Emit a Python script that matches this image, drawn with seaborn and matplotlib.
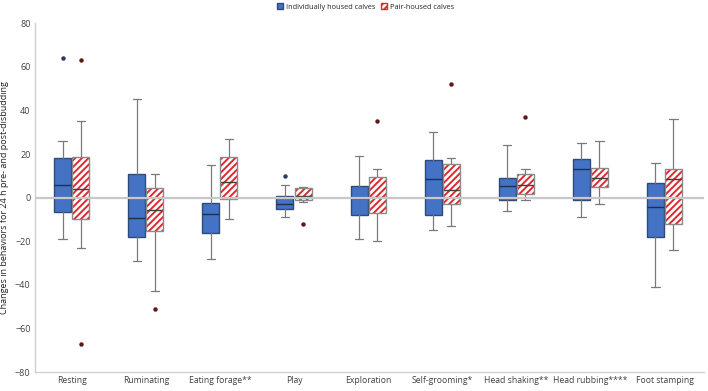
import matplotlib
matplotlib.use("Agg")
import matplotlib.pyplot as plt
import matplotlib.patches as mpatches
from matplotlib.patches import PathPatch
import seaborn as sns

categories = ["Resting", "Ruminating", "Eating forage**", "Play", "Exploration",
              "Self-grooming*", "Head shaking**", "Head rubbing****", "Foot stamping"]

# Individually housed calves: whisker low, Q1, median, Q3, whisker high
ind_whislo = [-19, -29, -28, -9, -19, -15, -6, -9, -41]
ind_q1 = [-6.5, -18, -16, -5, -8, -8, -1, -1, -18]
ind_med = [6, -9.5, -7.5, -3, 0, 8.5, 5.5, 13, -4.5]
ind_q3 = [18.3, 10.7, -2.3, 0.7, 5.3, 17.3, 9.2, 17.6, 6.7]
ind_whishi = [26, 45, 15, 6, 19, 30, 24, 25, 16]
ind_fliers = [[64], [], [], [10], [], [], [], [], []]

# Pair-housed calves
pair_whislo = [-23, -43, -10, -2, -20, -13, -1, -3, -24]
pair_q1 = [-10, -15.5, -0.8, -1, -7, -3, 1.7, 4.7, -12]
pair_med = [4, -5.5, 7, 0.7, 0.3, 3.5, 6, 9, 8.5]
pair_q3 = [18.8, 4.6, 18.5, 4.4, 9.5, 15.3, 10.7, 13.6, 13.3]
pair_whishi = [35, 11, 27, 5, 13, 18, 13, 26, 36]
pair_fliers = [[63, -67], [-51], [], [-12], [35], [52], [37], [], []]

sns.set_theme(style="white")
plt.rcParams['font.family'] = ['Open Sans', 'DejaVu Sans']
plt.rcParams['hatch.linewidth'] = 1.4

fig = plt.figure(figsize=(7.08, 3.91), dpi=100)
ax = fig.add_axes([0.049, 0.048, 0.946, 0.893])


def make_stats(lo, q1, med, q3, hi, fl):
    return [dict(whislo=a, q1=b, med=c, q3=d, whishi=e, fliers=f)
            for a, b, c, d, e, f in zip(lo, q1, med, q3, hi, fl)]


ind_stats = make_stats(ind_whislo, ind_q1, ind_med, ind_q3, ind_whishi, ind_fliers)
pair_stats = make_stats(pair_whislo, pair_q1, pair_med, pair_q3, pair_whishi, pair_fliers)

pos = list(range(len(categories)))
w = 0.23
off = 0.122

b1 = ax.bxp(ind_stats, positions=[p - off for p in pos], widths=w, patch_artist=True,
            showfliers=True,
            boxprops=dict(facecolor="#4472C4", edgecolor="#2F4A78", linewidth=1.0),
            medianprops=dict(color="#1F2F4F", linewidth=1.0),
            whiskerprops=dict(color="#7A7A7A", linewidth=0.9),
            capprops=dict(color="#7A7A7A", linewidth=0.9),
            flierprops=dict(marker="o", markersize=2.2, markerfacecolor="#2B3A67",
                            markeredgecolor="#2B3A67"))

b2 = ax.bxp(pair_stats, positions=[p + off for p in pos], widths=w, patch_artist=True,
            showfliers=True,
            boxprops=dict(facecolor="white", edgecolor="#E0282E", linewidth=0),
            medianprops=dict(color="#404040", linewidth=1.0),
            whiskerprops=dict(color="#7A7A7A", linewidth=0.9),
            capprops=dict(color="#7A7A7A", linewidth=0.9),
            flierprops=dict(marker="o", markersize=2.2, markerfacecolor="#5C1A1A",
                            markeredgecolor="#5C1A1A"))
for box in b2["boxes"]:
    box.set_hatch("/////")
    # grey outline on top of the red hatch
    ax.add_patch(PathPatch(box.get_path(), fill=False, edgecolor="#8A8A8A",
                           linewidth=1.0, zorder=box.get_zorder() + 0.1))

ax.axhline(0, color="#C8C8C8", linewidth=1.6, zorder=10)

ax.set_xlim(-0.5, 8.54)
ax.set_ylim(-80, 80)
ax.set_yticks(range(-80, 81, 20))
ax.set_xticks(pos)
ax.set_xticklabels(categories, fontsize=6.2, color="#404040")
ax.tick_params(axis="y", labelsize=6.5, colors="#404040", length=0, pad=3)
ax.tick_params(axis="x", length=0, pad=3)
ax.set_ylabel("Changes in behaviors for 24 h pre- and post-disbudding", fontsize=6.5,
              color="#202020", labelpad=4)

for s in ["top", "right"]:
    ax.spines[s].set_visible(False)
for s in ["left", "bottom"]:
    ax.spines[s].set_color("#D0D0D0")
    ax.spines[s].set_linewidth(1.0)

h1 = mpatches.Patch(facecolor="#4472C4", edgecolor="#2F4A78", label="Individually housed calves")
h2 = mpatches.Patch(facecolor="white", edgecolor="#E0282E", hatch="/////", label="Pair-housed calves")
fig.legend(handles=[h1, h2], loc="upper center", bbox_to_anchor=(0.516, 1.008), ncol=2,
           frameon=False, fontsize=5.3, handlelength=0.8, handleheight=0.8,
           handletextpad=0.4, columnspacing=0.8)

fig.savefig("out.png", dpi=100)
